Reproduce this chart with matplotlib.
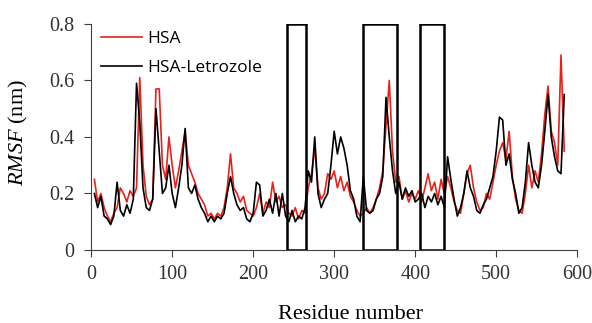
import matplotlib
matplotlib.use("Agg")
import matplotlib.pyplot as plt
from matplotlib.patches import Rectangle
import numpy as np

plt.rcParams['mathtext.fontset'] = 'custom'
plt.rcParams['mathtext.it'] = 'Liberation Serif:italic'
plt.rcParams['mathtext.rm'] = 'Liberation Serif'

residue = list(range(4, 588, 4))

rmsf_hsa = [
    0.25, 0.17, 0.20, 0.15, 0.12, 0.10, 0.13, 0.15, 0.22, 0.20,
    0.17, 0.21, 0.19, 0.22, 0.61, 0.30, 0.19, 0.16, 0.18, 0.57,
    0.57, 0.30, 0.25, 0.40, 0.30, 0.22, 0.28, 0.35, 0.42, 0.30,
    0.27, 0.24, 0.20, 0.18, 0.16, 0.12, 0.13, 0.11, 0.13, 0.12,
    0.15, 0.22, 0.34, 0.22, 0.20, 0.17, 0.19, 0.14, 0.13, 0.12,
    0.15, 0.20, 0.13, 0.17, 0.15, 0.24, 0.17, 0.19, 0.15, 0.16,
    0.13, 0.12, 0.15, 0.11, 0.14, 0.13, 0.22, 0.27, 0.36, 0.22,
    0.18, 0.20, 0.27, 0.25, 0.28, 0.22, 0.26, 0.21, 0.24, 0.19,
    0.17, 0.14, 0.12, 0.13, 0.15, 0.13, 0.15, 0.18, 0.22, 0.28,
    0.44, 0.60, 0.35, 0.24, 0.26, 0.18, 0.21, 0.17, 0.20, 0.18,
    0.21, 0.17, 0.22, 0.27, 0.21, 0.24, 0.18, 0.25, 0.20, 0.26,
    0.22, 0.17, 0.14, 0.13, 0.20, 0.27, 0.30, 0.22, 0.17, 0.14,
    0.15, 0.20, 0.18, 0.24, 0.30, 0.35, 0.38, 0.32, 0.42, 0.26,
    0.18, 0.14, 0.13, 0.20, 0.30, 0.22, 0.28, 0.24, 0.34, 0.48,
    0.58, 0.42, 0.38, 0.30, 0.69, 0.35,
]

rmsf_let = [
    0.20, 0.15, 0.19, 0.12, 0.11, 0.09, 0.12, 0.24, 0.14, 0.12,
    0.16, 0.13, 0.18, 0.59, 0.45, 0.22, 0.15, 0.14, 0.18, 0.50,
    0.35, 0.20, 0.22, 0.30, 0.20, 0.15, 0.22, 0.30, 0.43, 0.22,
    0.20, 0.23, 0.18, 0.15, 0.13, 0.10, 0.12, 0.10, 0.12, 0.11,
    0.13, 0.20, 0.26, 0.20, 0.16, 0.14, 0.15, 0.11, 0.10, 0.13,
    0.24, 0.23, 0.12, 0.14, 0.18, 0.13, 0.20, 0.12, 0.20, 0.12,
    0.10, 0.14, 0.10, 0.12, 0.11, 0.15, 0.28, 0.24, 0.40, 0.20,
    0.15, 0.18, 0.20, 0.30, 0.42, 0.34, 0.40, 0.36, 0.30, 0.21,
    0.18, 0.12, 0.10, 0.26, 0.14, 0.13, 0.14, 0.18, 0.20, 0.26,
    0.54, 0.40, 0.28, 0.20, 0.24, 0.18, 0.22, 0.19, 0.21, 0.17,
    0.18, 0.20, 0.15, 0.19, 0.17, 0.20, 0.16, 0.19, 0.15, 0.33,
    0.25, 0.18, 0.12, 0.15, 0.20, 0.28, 0.22, 0.19, 0.14, 0.13,
    0.16, 0.18, 0.22, 0.26, 0.35, 0.47, 0.46, 0.30, 0.34, 0.25,
    0.20, 0.13, 0.15, 0.24, 0.38, 0.30, 0.24, 0.22, 0.30, 0.42,
    0.55, 0.40, 0.33, 0.28, 0.27, 0.55,
]

# boxed regions (start, end residue)
regions = [(242, 265), (336, 377), (406, 436)]

fig = plt.figure(figsize=(5.92, 3.23), dpi=100)
ax = fig.add_axes([0.154, 0.226, 0.821, 0.70])

ax.plot(residue, rmsf_hsa, c='#e8211b', lw=1.2, label='HSA')
ax.plot(residue, rmsf_let, c='black', lw=1.2, label='HSA-Letrozole')

for r0, r1 in regions:
    ax.add_patch(Rectangle((r0, 0), r1 - r0, 0.8, fill=False, ec='black', lw=1.8, zorder=3))

ax.set_xlim(0, 600)
ax.set_ylim(0, 0.8)
ax.set_xticks(np.arange(0, 601, 100))
ax.set_yticks([0, 0.2, 0.4, 0.6, 0.8])
ax.set_yticklabels(['0', '0.2', '0.4', '0.6', '0.8'])
for s in ['top', 'right']:
    ax.spines[s].set_visible(False)
for s in ['left', 'bottom']:
    ax.spines[s].set_color('#404040')
ax.tick_params(direction='out', length=5, color='#404040', labelsize=14.5)
ax.tick_params(axis='y', pad=7)
ax.tick_params(axis='x', pad=6)
for lab in ax.get_xticklabels() + ax.get_yticklabels():
    lab.set_family('Liberation Serif')
    lab.set_color('#333333')

ax.set_xlabel('Residue number', family='Liberation Serif', fontsize=16)
ax.xaxis.set_label_coords(0.533, -0.245)
ax.set_ylabel(r'$\it{RMSF}$ (nm)', family='Liberation Serif', fontsize=16)
ax.yaxis.set_label_coords(-0.125, 0.52)

leg = ax.legend(loc='upper left', bbox_to_anchor=(0.005, 1.0), frameon=False,
                prop={'family': 'Open Sans', 'size': 12.5},
                handlelength=2.4, handletextpad=0.3, labelspacing=0.75, borderaxespad=0.0)

fig.savefig('out.png', dpi=100)
